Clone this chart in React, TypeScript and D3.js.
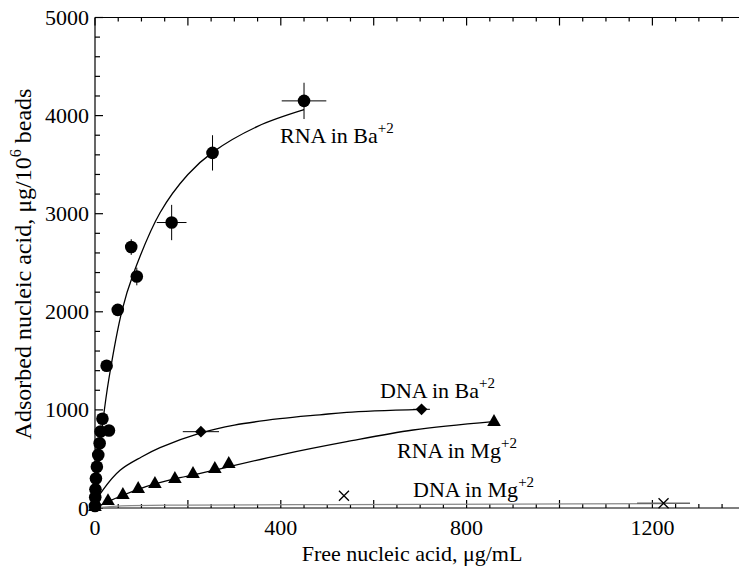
import * as d3 from 'd3';

// RNA in Ba+2 (circles)
const rnaBaX = [0, 0.5, 1, 2, 4, 7, 10, 12, 16, 30, 25, 49, 78, 90, 165, 253, 450];
const rnaBaY = [20, 110, 190, 300, 420, 540, 660, 780, 910, 790, 1450, 2020, 2660, 2360, 2910, 3620, 4150];
const rnaBaXErr = [0, 0, 0, 0, 0, 0, 0, 0, 0, 0, 0, 0, 0, 0, 32, 0, 48];
const rnaBaYErr = [0, 0, 0, 0, 0, 0, 0, 0, 0, 0, 0, 0, 80, 90, 180, 180, 185];
const rnaBaFitX = [0, 5, 10, 17, 30, 58, 82, 140, 200, 253, 350, 450];
const rnaBaFitY = [0, 300, 560, 880, 1320, 2010, 2380, 3010, 3400, 3625, 3890, 4060];

// DNA in Ba+2 (diamonds)
const dnaBaX = [228, 703];
const dnaBaY = [778, 1006];
const dnaBaXErr = [39, 18];
const dnaBaFitX = [0, 4, 18, 54, 100, 140, 228, 300, 398, 484, 542, 703];
const dnaBaFitY = [0, 80, 190, 385, 520, 615, 765, 845, 910, 950, 975, 1005];

// RNA in Mg+2 (triangles)
const rnaMgX = [0, 28, 60, 93, 129, 172, 211, 258, 288, 859];
const rnaMgY = [10, 70, 133, 194, 245, 296, 347, 398, 449, 877];
const rnaMgFitX = [0, 28, 60, 93, 129, 183, 258, 288, 398, 542, 685, 857];
const rnaMgFitY = [0, 65, 130, 190, 245, 309, 385, 420, 540, 676, 795, 880];

// DNA in Mg+2 (crosses)
const dnaMgX = [536, 1224];
const dnaMgY = [125, 48];
const dnaMgXErr = [0, 57];
const dnaMgFitX = [0, 50, 200, 536, 900, 1224];
const dnaMgFitY = [0, 20, 30, 35, 40, 45];

const xTicks = d3.range(0, 1401, 50);
const xLabels = [0, 400, 800, 1200];
const yTicks = d3.range(0, 5001, 200);
const yLabels = [0, 1000, 2000, 3000, 4000, 5000];

const W = 739;
const H = 570;
const FONT = '"Liberation Serif", "Times New Roman", serif';

export default function App() {
  const x = d3.scaleLinear().domain([0, 1400]).range([95, 745.3]);
  const y = d3.scaleLinear().domain([0, 5000]).range([508, 17.5]);
  const left = x(0);
  const bottom = y(0);
  const top = y(5000);

  const line = d3
    .line<[number, number]>()
    .x((d) => x(d[0]))
    .y((d) => y(d[1]))
    .curve(d3.curveCatmullRom.alpha(0.5));
  const zip = (a: number[], b: number[]) => a.map((v, i) => [v, b[i]] as [number, number]);

  const tri = d3.symbol(d3.symbolTriangle, 80)()!;
  const dia = d3.symbol(d3.symbolSquare, 70)()!;

  return (
    <svg
      width={W}
      height={H}
      style={{ position: 'absolute', left: 0, top: 0, background: '#fff' }}
      fontFamily={FONT}
    >
      {/* axes */}
      <g stroke="#000" strokeWidth={1.2} fill="none">
        <line x1={left} x2={W} y1={bottom} y2={bottom} />
        <line x1={left} x2={W} y1={top} y2={top} />
        <line x1={left} x2={left} y1={top} y2={bottom} />
        {xTicks.map((t) => {
          const len = t % 200 === 0 ? 8 : 4;
          return (
            <g key={'xt' + t}>
              <line x1={x(t)} x2={x(t)} y1={bottom} y2={bottom - len} />
              <line x1={x(t)} x2={x(t)} y1={top} y2={top + len} />
            </g>
          );
        })}
        {yTicks.map((t) => {
          const len = t % 1000 === 0 ? 8 : 5;
          return <line key={'yt' + t} x1={left} x2={left + len} y1={y(t)} y2={y(t)} />;
        })}
      </g>
      <g fontSize={22} fill="#000">
        {xLabels.map((t) => (
          <text key={'xl' + t} x={x(t)} y={535} textAnchor="middle">
            {t}
          </text>
        ))}
        {yLabels.map((t) => (
          <text key={'yl' + t} x={89} y={y(t) + 7.5} textAnchor="end">
            {t}
          </text>
        ))}
        <text x={412} y={561} textAnchor="middle">
          Free nucleic acid, μg/mL
        </text>
        <text transform={`translate(31,264) rotate(-90)`} textAnchor="middle" fontSize={24}>
          Adsorbed nucleic acid, μg/10
          <tspan fontSize={16} dy={-10}>6</tspan>
          <tspan dy={10}> beads</tspan>
        </text>
      </g>

      {/* fit curves */}
      <g fill="none" strokeWidth={1.3}>
        <path d={line(zip(dnaMgFitX, dnaMgFitY))!} stroke="#888" />
        <path d={line(zip(rnaBaFitX, rnaBaFitY))!} stroke="#000" />
        <path d={line(zip(dnaBaFitX, dnaBaFitY))!} stroke="#000" />
        <path d={line(zip(rnaMgFitX, rnaMgFitY))!} stroke="#000" />
      </g>

      {/* error bars */}
      <g stroke="#000" strokeWidth={1}>
        {rnaBaX.map((v, i) => (
          <g key={'rbe' + i}>
            {rnaBaXErr[i] > 0 && (
              <line x1={x(v - rnaBaXErr[i])} x2={x(v + rnaBaXErr[i])} y1={y(rnaBaY[i])} y2={y(rnaBaY[i])} />
            )}
            {rnaBaYErr[i] > 0 && (
              <line x1={x(v)} x2={x(v)} y1={y(rnaBaY[i] - rnaBaYErr[i])} y2={y(rnaBaY[i] + rnaBaYErr[i])} />
            )}
          </g>
        ))}
        {dnaBaX.map((v, i) => (
          <line key={'dbe' + i} x1={x(v - dnaBaXErr[i])} x2={x(v + dnaBaXErr[i])} y1={y(dnaBaY[i])} y2={y(dnaBaY[i])} />
        ))}
        {dnaMgX.map((v, i) =>
          dnaMgXErr[i] > 0 ? (
            <line key={'dme' + i} x1={x(v - dnaMgXErr[i])} x2={x(v + dnaMgXErr[i])} y1={y(dnaMgY[i])} y2={y(dnaMgY[i])} stroke="#666" strokeWidth={1.6} />
          ) : null
        )}
      </g>

      {/* markers */}
      <g fill="#000">
        {rnaBaX.map((v, i) => (
          <circle key={'rb' + i} cx={x(v)} cy={y(rnaBaY[i])} r={6.3} />
        ))}
        {dnaBaX.map((v, i) => (
          <path key={'db' + i} d={dia} transform={`translate(${x(v)},${y(dnaBaY[i])}) rotate(45)`} />
        ))}
        {rnaMgX.map((v, i) => (
          <path key={'rm' + i} d={tri} transform={`translate(${x(v)},${y(rnaMgY[i])})`} />
        ))}
        {dnaMgX.map((v, i) => (
          <path
            key={'dm' + i}
            d="M-5,-5L5,5M-5,5L5,-5"
            transform={`translate(${x(v)},${y(dnaMgY[i])})`}
            stroke="#000"
            strokeWidth={1.3}
            fill="none"
          />
        ))}
      </g>

      {/* series labels */}
      <g fontSize={22} fill="#000">
        <text x={280} y={143}>
          RNA in Ba<tspan fontSize={15} dy={-10}>+2</tspan>
        </text>
        <text x={380} y={398}>
          DNA in Ba<tspan fontSize={15} dy={-10}>+2</tspan>
        </text>
        <text x={397} y={458}>
          RNA in Mg<tspan fontSize={15} dy={-10}>+2</tspan>
        </text>
        <text x={413} y={497}>
          DNA in Mg<tspan fontSize={15} dy={-10}>+2</tspan>
        </text>
      </g>
    </svg>
  );
}
